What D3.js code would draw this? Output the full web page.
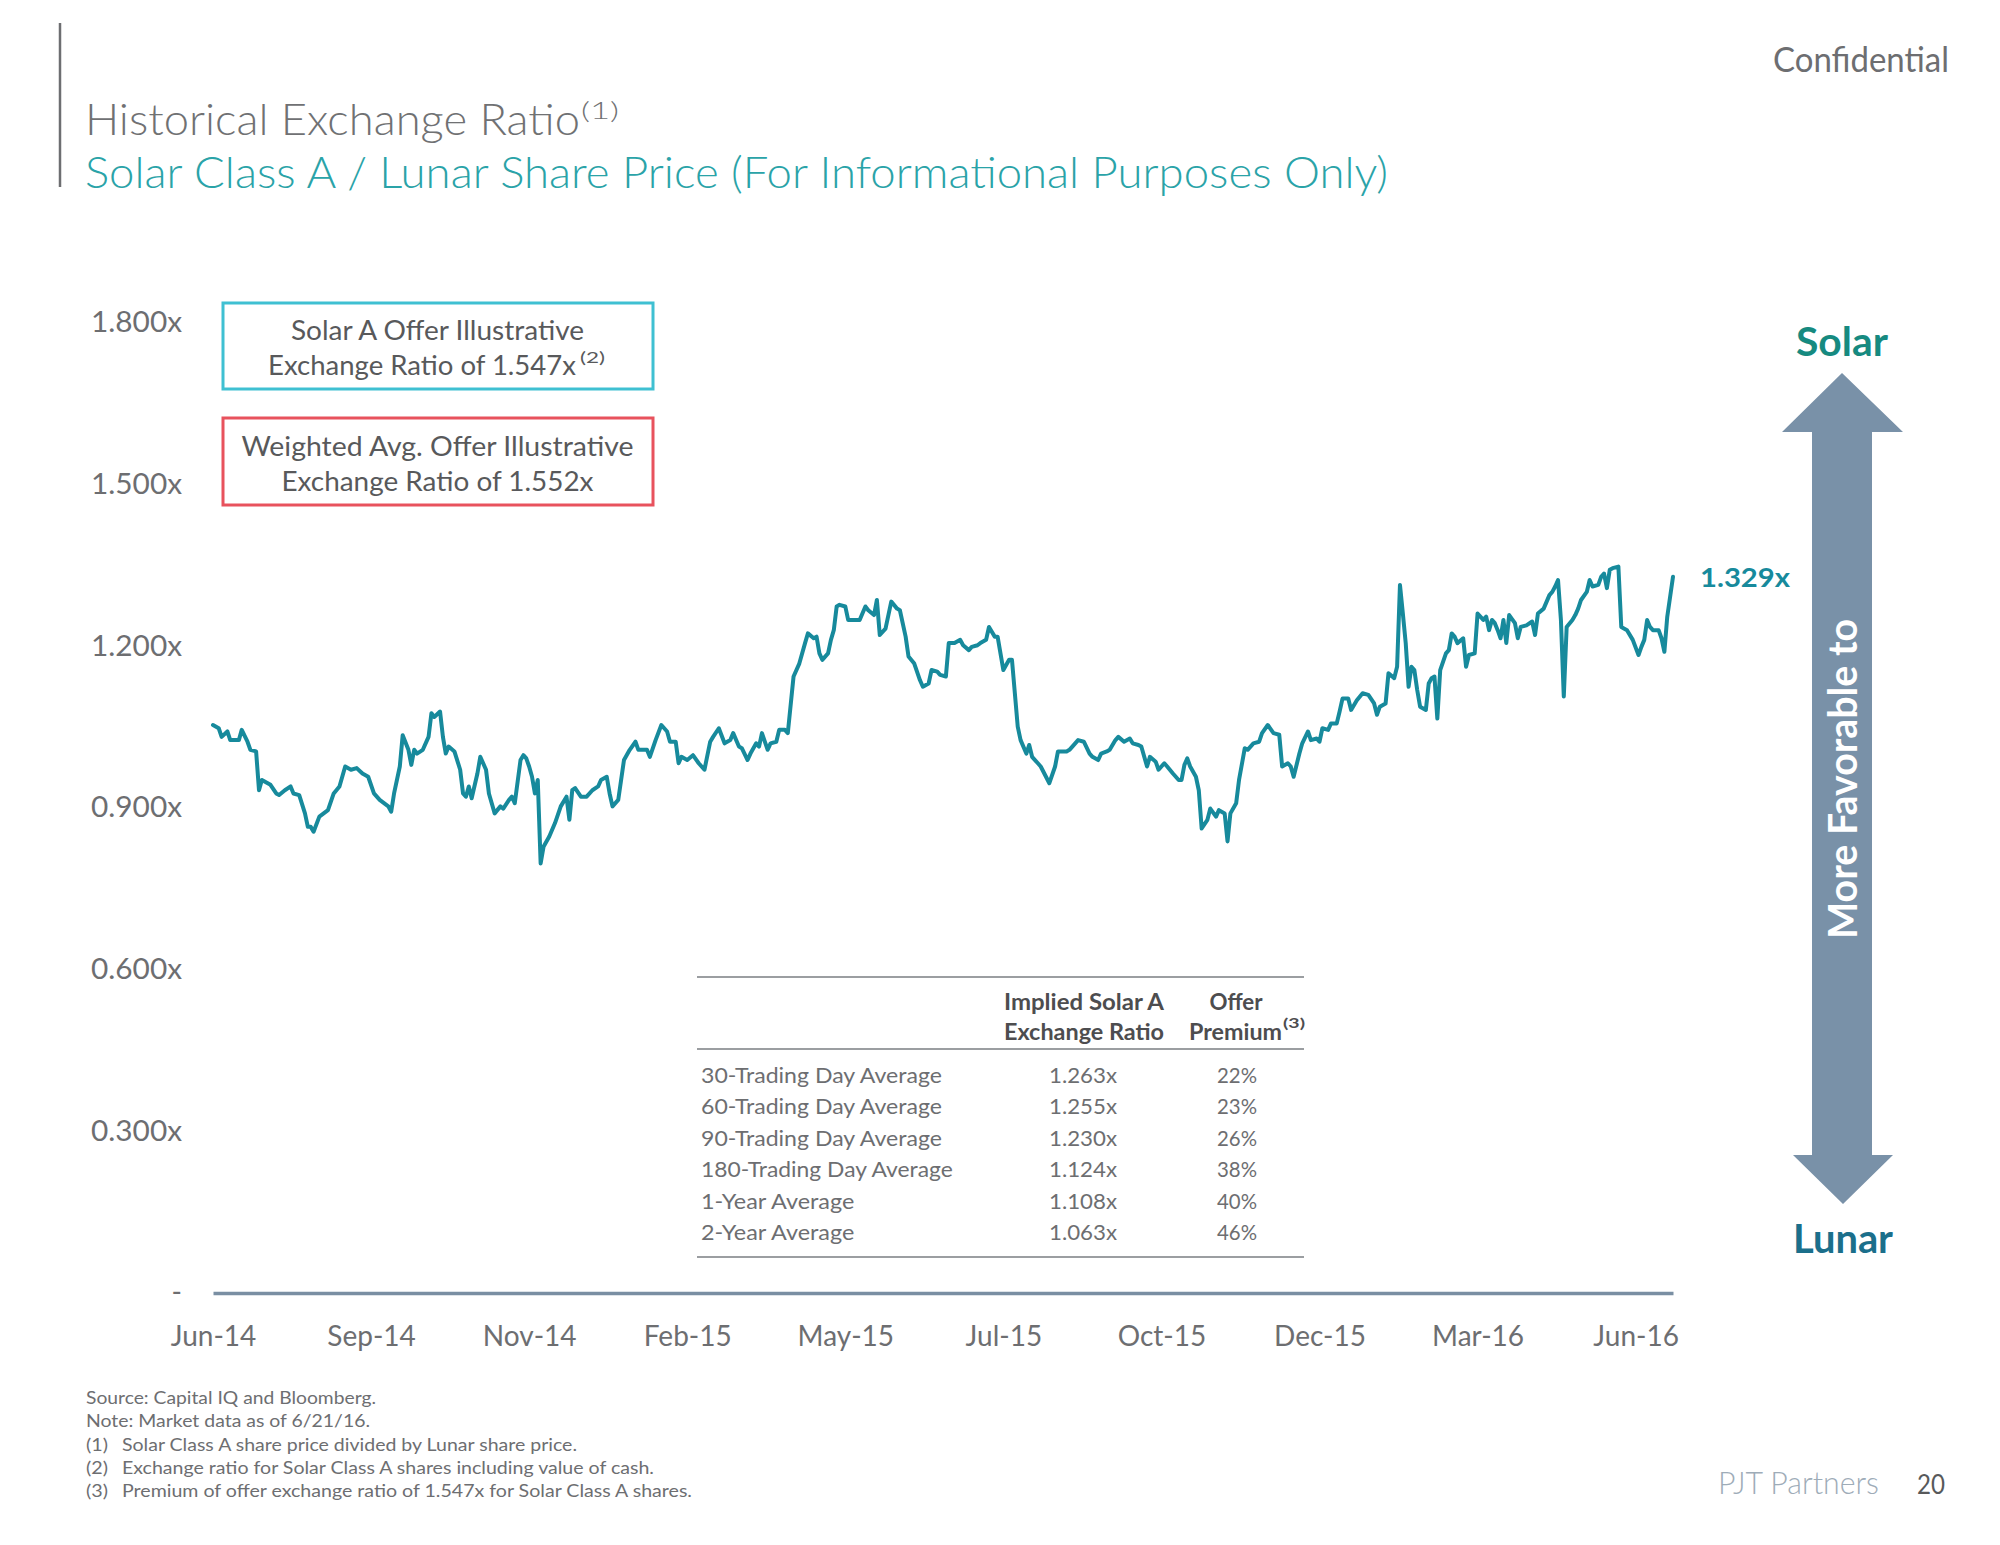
<!DOCTYPE html>
<html>
<head>
<meta charset="utf-8">
<script src="https://cdn.jsdelivr.net/npm/d3@7"></script>
<style>
  html, body { margin: 0; padding: 0; background: #fff; }
  svg { display: block; }
</style>
</head>
<body>
<svg id="chart" width="2000" height="1545"></svg>
<script>
// ---------------- DATA ----------------
const dayIndex = [0,2,3,5,6,9,10,12,13,15,16,17,20,22,23,25,27,28,30,32,33,34,35,37,40,42,44,46,48,50,52,54,56,58,61,62,63,65,66,68,69,70,71,73,75,76,77,79,80,81,82,84,86,87,88,89,90,92,93,95,96,98,100,101,103,104,105,107,108,109,110,111,112,113,114,115,117,119,121,123,124,125,126,128,130,132,134,135,137,138,139,141,143,145,147,148,151,152,154,156,158,159,161,162,163,165,167,169,171,173,174,176,178,180,181,183,184,186,187,189,190,191,193,194,196,197,199,200,202,204,206,207,209,210,211,212,214,215,216,217,218,220,221,224,225,227,228,230,231,232,234,236,238,239,241,242,244,246,247,249,250,252,253,255,256,258,260,261,263,264,266,267,269,270,272,273,275,277,278,280,281,283,284,285,287,288,291,293,294,297,298,300,301,303,305,306,308,309,311,312,314,315,317,319,320,322,323,325,326,328,329,331,332,334,336,337,338,339,340,342,343,344,346,347,349,350,352,353,354,356,357,359,360,362,364,365,367,369,371,372,374,375,376,378,379,381,382,384,385,386,388,389,391,392,393,395,396,398,400,402,404,405,406,408,409,411,412,413,414,415,416,417,418,419,420,422,423,424,425,426,427,429,430,431,432,433,435,436,437,439,440,442,443,444,445,446,447,448,449,450,451,453,454,455,457,459,460,461,463,465,466,467,468,469,470,471,473,474,475,476,478,479,480,482,483,484,485,486,487,489,490,492,494,496,497,498,499,500,501,503,504,505,506,507,508];
const ratio = [1.054,1.048,1.032,1.042,1.026,1.026,1.045,1.023,1.008,1.005,0.933,0.952,0.943,0.927,0.924,0.933,0.940,0.927,0.924,0.890,0.865,0.865,0.856,0.884,0.896,0.927,0.940,0.977,0.971,0.974,0.964,0.958,0.927,0.915,0.903,0.893,0.927,0.977,1.035,1.008,0.980,1.008,1.001,1.008,1.032,1.076,1.069,1.079,1.032,1.001,1.014,1.005,0.971,0.927,0.921,0.940,0.918,0.964,0.995,0.971,0.927,0.890,0.903,0.899,0.915,0.921,0.909,0.989,0.998,0.992,0.977,0.958,0.927,0.952,0.797,0.828,0.847,0.872,0.903,0.921,0.878,0.933,0.937,0.921,0.921,0.933,0.940,0.952,0.958,0.927,0.903,0.915,0.989,1.008,1.023,1.008,1.008,0.995,1.026,1.054,1.042,1.023,1.023,0.983,0.995,0.989,0.998,0.983,0.971,1.023,1.032,1.048,1.020,1.026,1.039,1.014,1.011,0.989,1.001,1.020,1.014,1.039,1.008,1.020,1.023,1.045,1.045,1.039,1.144,1.168,1.206,1.224,1.215,1.218,1.187,1.175,1.187,1.212,1.230,1.274,1.277,1.274,1.249,1.249,1.249,1.274,1.267,1.258,1.286,1.221,1.233,1.283,1.270,1.267,1.218,1.181,1.168,1.137,1.125,1.131,1.156,1.153,1.147,1.144,1.206,1.206,1.212,1.202,1.193,1.199,1.202,1.206,1.212,1.236,1.218,1.218,1.156,1.175,1.175,1.051,1.026,1.001,1.017,0.995,0.983,0.977,0.946,0.977,1.005,1.005,1.008,1.020,1.026,1.023,1.001,0.995,0.989,1.001,1.005,1.008,1.026,1.032,1.023,1.029,1.020,1.017,1.014,0.977,0.995,0.986,0.971,0.983,0.977,0.964,0.952,0.952,0.980,0.992,0.977,0.958,0.933,0.862,0.878,0.899,0.884,0.896,0.890,0.838,0.890,0.909,0.952,1.011,1.008,1.020,1.023,1.039,1.054,1.039,1.036,0.977,0.983,0.977,0.958,1.001,1.020,1.042,1.026,1.029,1.023,1.048,1.045,1.057,1.057,1.079,1.103,1.103,1.082,1.100,1.113,1.110,1.094,1.073,1.088,1.094,1.150,1.141,1.162,1.314,1.261,1.206,1.125,1.162,1.156,1.119,1.088,1.082,1.131,1.141,1.144,1.066,1.156,1.187,1.193,1.224,1.218,1.206,1.215,1.162,1.184,1.187,1.261,1.249,1.255,1.230,1.249,1.243,1.230,1.215,1.249,1.206,1.258,1.243,1.215,1.236,1.239,1.246,1.221,1.261,1.270,1.295,1.301,1.311,1.323,1.249,1.107,1.236,1.249,1.258,1.270,1.286,1.301,1.323,1.311,1.314,1.329,1.335,1.308,1.342,1.345,1.348,1.236,1.230,1.212,1.184,1.199,1.212,1.249,1.236,1.230,1.230,1.215,1.190,1.255,1.292,1.329];

const tickIndex  = [0, 55, 110, 165, 220, 275, 330, 385, 440, 495];
const tickLabels = ["Jun-14","Sep-14","Nov-14","Feb-15","May-15","Jul-15","Oct-15","Dec-15","Mar-16","Jun-16"];
const yTicks = [0, 0.3, 0.6, 0.9, 1.2, 1.5, 1.8];
const currentRatio = 1.329;

const tableRows     = ["30-Trading Day Average","60-Trading Day Average","90-Trading Day Average","180-Trading Day Average","1-Year Average","2-Year Average"];
const tableRatios   = ["1.263x","1.255x","1.230x","1.124x","1.108x","1.063x"];
const tablePremiums = ["22%","23%","26%","38%","40%","46%"];

const footnotes = [
  ["", "Source: Capital IQ and Bloomberg."],
  ["", "Note: Market data as of 6/21/16."],
  ["(1)", "Solar Class A share price divided by Lunar share price."],
  ["(2)", "Exchange ratio for Solar Class A shares including value of cash."],
  ["(3)", "Premium of offer exchange ratio of 1.547x for Solar Class A shares."]
];

// ---------------- DRAW ----------------
const svg = d3.select("#chart");
const FONT = "Lato, 'Open Sans', 'DejaVu Sans', sans-serif";
const GRAY = "#6d6e71";

function txt(parent, x, y, s, o = {}) {
  const t = parent.append("text")
    .attr("x", x).attr("y", y)
    .attr("font-family", o.family || FONT)
    .attr("font-size", o.size || 20)
    .attr("font-weight", o.weight || 400)
    .attr("fill", o.fill || GRAY)
    .attr("text-anchor", o.anchor || "start")
    .text(s);
  if (o.len) t.attr("textLength", o.len).attr("lengthAdjust", "spacingAndGlyphs");
  return t;
}

// header bar & titles
svg.append("line").attr("x1", 60).attr("x2", 60).attr("y1", 23).attr("y2", 187)
  .attr("stroke", "#6d6e71").attr("stroke-width", 2.5);
txt(svg, 85, 135, "Historical Exchange Ratio", {size: 44, weight: 300, fill: "#707173", len: 495});
txt(svg, 581, 119, "(1)", {size: 24, weight: 300, fill: "#707173", len: 38});
txt(svg, 85, 188, "Solar Class A / Lunar Share Price (For Informational Purposes Only)", {size: 44, weight: 300, fill: "#2aa3a8", len: 1303});
txt(svg, 1949, 72, "Confidential", {size: 34, weight: 400, fill: "#6d6e71", anchor: "end", len: 176});

// scales
const x = d3.scaleLinear().domain([0, 508]).range([213, 1673]);
const y = d3.scaleLinear().domain([0, 1.8]).range([1293, 323]);

// y axis
const yAxis = svg.append("g").attr("transform", "translate(190,0)")
  .call(d3.axisLeft(y).tickValues(yTicks).tickSize(0).tickPadding(8)
    .tickFormat(d => d === 0 ? "-" : d3.format(".3f")(d) + "x"));
yAxis.select(".domain").remove();
yAxis.selectAll("text").attr("font-family", FONT).attr("font-size", 28).attr("fill", GRAY)
  .each(function(d) { if (d !== 0) d3.select(this).attr("textLength", 91).attr("lengthAdjust", "spacingAndGlyphs"); });

// x axis
const xAxis = svg.append("g").attr("transform", `translate(0,${y(0)})`)
  .call(d3.axisBottom(x).tickValues(tickIndex).tickSize(0).tickSizeOuter(0).tickPadding(33)
    .tickFormat((d, i) => tickLabels[i]));
xAxis.select(".domain").attr("stroke", "#7a8fa3").attr("stroke-width", 3.5);
xAxis.selectAll("text").attr("font-family", FONT).attr("font-size", 28).attr("fill", GRAY);

// line
const pts = dayIndex.map((d, i) => [d, ratio[i]]);
svg.append("path").datum(pts)
  .attr("fill", "none").attr("stroke", "#178a9c").attr("stroke-width", 4)
  .attr("stroke-linejoin", "round").attr("stroke-linecap", "round")
  .attr("d", d3.line().x(d => x(d[0])).y(d => y(d[1])));

// current ratio label
const last = pts[pts.length - 1];
txt(svg, x(last[0]) + 27, y(currentRatio) + 10, d3.format(".3f")(currentRatio) + "x",
  {size: 27, weight: 700, fill: "#178a9c", len: 90});

// offer boxes
svg.append("rect").attr("x", 223).attr("y", 303).attr("width", 430).attr("height", 86)
  .attr("fill", "none").attr("stroke", "#3fc0d2").attr("stroke-width", 3);
txt(svg, 437.5, 340, "Solar A Offer Illustrative", {size: 27, fill: "#58595b", anchor: "middle", len: 293});
txt(svg, 268, 375, "Exchange Ratio of 1.547x", {size: 27, fill: "#58595b", len: 308});
txt(svg, 580, 363, "(2)", {size: 16, fill: "#58595b", len: 25});

svg.append("rect").attr("x", 223).attr("y", 418).attr("width", 430).attr("height", 87)
  .attr("fill", "none").attr("stroke", "#e8525d").attr("stroke-width", 3);
txt(svg, 437.5, 456, "Weighted Avg. Offer Illustrative", {size: 27, fill: "#58595b", anchor: "middle", len: 392});
txt(svg, 437.5, 491, "Exchange Ratio of 1.552x", {size: 27, fill: "#58595b", anchor: "middle", len: 312});

// table
const tbl = svg.append("g");
const ruleX1 = 697, ruleX2 = 1304;
[977, 1049, 1257].forEach(yy => tbl.append("line").attr("x1", ruleX1).attr("x2", ruleX2)
  .attr("y1", yy).attr("y2", yy).attr("stroke", "#9b9ea1").attr("stroke-width", 2));
txt(tbl, 1084, 1010, "Implied Solar A", {size: 22, weight: 700, fill: "#4d4d4f", anchor: "middle", len: 160});
txt(tbl, 1084, 1040, "Exchange Ratio", {size: 22, weight: 700, fill: "#4d4d4f", anchor: "middle", len: 160});
txt(tbl, 1236, 1010, "Offer", {size: 22, weight: 700, fill: "#4d4d4f", anchor: "middle", len: 53});
txt(tbl, 1189, 1040, "Premium", {size: 22, weight: 700, fill: "#4d4d4f", len: 93});
txt(tbl, 1283, 1028, "(3)", {size: 13, weight: 700, fill: "#4d4d4f", len: 22});
tableRows.forEach((r, i) => {
  const yy = 1083 + i * 31.4;
  txt(tbl, 701, yy, r, {size: 22, fill: GRAY, len: r.length * 10.95});
  txt(tbl, 1083, yy, tableRatios[i], {size: 22, fill: GRAY, anchor: "middle", len: 68});
  txt(tbl, 1237, yy, tablePremiums[i], {size: 22, fill: GRAY, anchor: "middle", len: 40});
});

// footnotes
const fnLens = [290, 284, 455, 532, 570];
footnotes.forEach((f, i) => {
  const yy = [1404, 1427, 1451, 1474, 1497][i];
  if (f[0]) {
    txt(svg, 86, yy, f[0], {size: 17, fill: GRAY, len: 22});
    txt(svg, 122, yy, f[1], {size: 17, fill: GRAY, len: fnLens[i]});
  } else {
    txt(svg, 86, yy, f[1], {size: 17, fill: GRAY, len: fnLens[i]});
  }
});

// arrow
const arrowPath = d3.path();
arrowPath.moveTo(1842, 373);
arrowPath.lineTo(1903, 432);
arrowPath.lineTo(1872, 432);
arrowPath.lineTo(1872, 1155);
arrowPath.lineTo(1893, 1155);
arrowPath.lineTo(1843, 1204);
arrowPath.lineTo(1793, 1155);
arrowPath.lineTo(1812, 1155);
arrowPath.lineTo(1812, 432);
arrowPath.lineTo(1782, 432);
arrowPath.closePath();
svg.append("path").attr("d", arrowPath.toString()).attr("fill", "#7991a8");

svg.append("text").attr("transform", "translate(1857,779) rotate(-90)")
  .attr("font-family", FONT).attr("font-size", 40).attr("font-weight", 700)
  .attr("fill", "#ffffff").attr("text-anchor", "middle")
  .attr("textLength", 320).attr("lengthAdjust", "spacingAndGlyphs")
  .text("More Favorable to");

txt(svg, 1842, 356, "Solar", {size: 40, weight: 700, fill: "#168a80", anchor: "middle", len: 92});
txt(svg, 1843, 1253, "Lunar", {size: 40, weight: 700, fill: "#1b6f8b", anchor: "middle", len: 100});

// footer
txt(svg, 1879, 1494, "PJT Partners", {size: 31, weight: 300, fill: "#9eacb8", anchor: "end", len: 161});
txt(svg, 1945, 1494, "20", {size: 27, fill: "#58595b", anchor: "end", len: 28});
</script>
</body>
</html>
